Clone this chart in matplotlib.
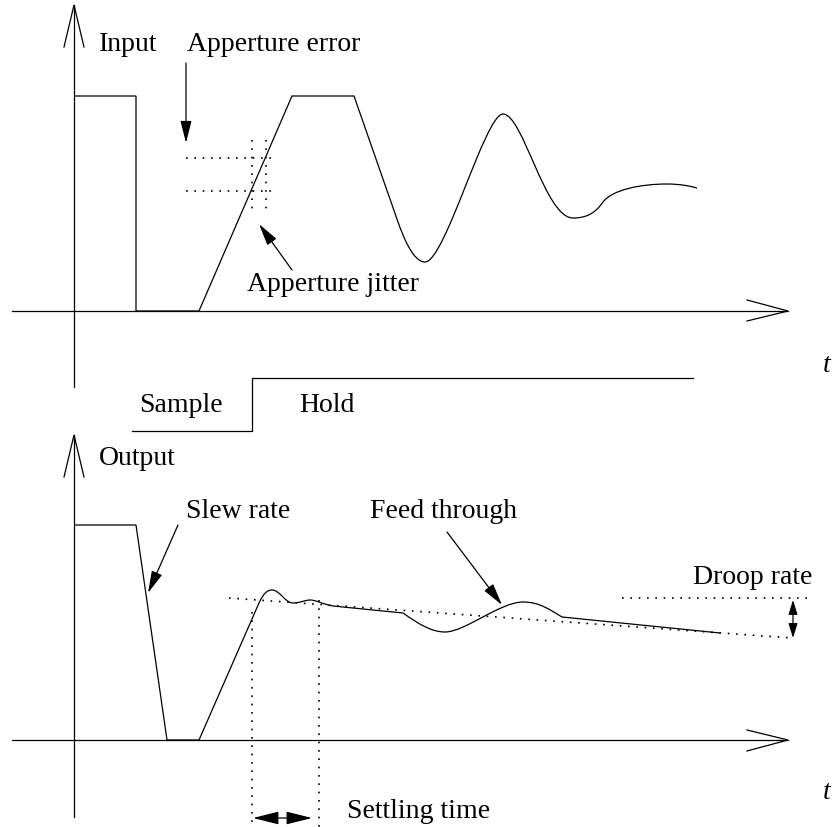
import matplotlib.pyplot as plt
from matplotlib.path import Path
from matplotlib.patches import PathPatch

# diagram drawn in pixel coordinates of the 832x827 picture (y goes down)

# axes of the two panels
top_axis_v_x = [74, 74]
top_axis_v_y = [5, 387]
top_axis_h_x = [12, 788]
top_axis_h_y = [311, 311]
bot_axis_v_x = [74, 74]
bot_axis_v_y = [435, 817]
bot_axis_h_x = [12, 788]
bot_axis_h_y = [740, 740]
up_head_x = [64, 74, 84]
top_up_head_y = [47, 5, 47]
bot_up_head_y = [477, 435, 477]
right_head_x = [747, 788, 747]
top_right_head_y = [300, 311, 321]
bot_right_head_y = [730, 740, 751]

# input signal: straight part, then bezier pieces (ctrl1, ctrl2, end)
input_lines = [(74, 96), (136, 96), (136, 311), (199, 311), (292, 96), (354, 96), (398, 222)]
input_curves = [
    [(403, 236), (413, 262), (425, 262)],
    [(445, 262), (485, 114), (503, 114)],
    [(523, 114), (545, 218), (573, 218)],
    [(588, 218), (596, 212), (603, 202)],
    [(612, 190), (640, 184), (667, 184)],
    [(680, 184), (690, 186), (697, 188)],
]

# output signal
output_lines = [(74, 525), (136, 525), (167, 740), (199, 740), (259, 603)]
output_curves = [
    [(264, 592), (268, 590), (272, 590)],
    [(280, 590), (285, 603), (293, 603)],
    [(300, 603), (305, 600), (310, 600)],
    [(316, 600), (322, 604), (333, 606)],
]
output_mid = [(403, 613)]
feed_curves = [
    [(420, 625), (432, 632), (445, 632)],
    [(465, 632), (500, 602), (523, 602)],
    [(540, 602), (550, 610), (562, 617)],
]
output_tail = [(720, 633)]

# sample / hold control line
hold_x = [132, 252, 252, 693]
hold_y = [431, 431, 378, 378]

# dotted guides
ap_err_y = [158, 191]
ap_err_x = [186, 277]
ap_jit_x = [252, 266]
ap_jit_y = [140, 213]
droop_line_x = [229, 792]
droop_line_y = [598, 638]
droop_top_x = [622, 812]
droop_top_y = [598, 598]
settle_x = [252, 319]
settle_top = [612, 600]
settle_bottom = 827

# labels: text, x, baseline y
labels = [
    ("Input", 99, 51), ("Apperture error", 187, 51), ("Apperture jitter", 247, 291),
    ("Sample", 139, 412), ("Hold", 299, 412), ("Output", 99, 465),
    ("Slew rate", 186, 518), ("Feed through", 370, 518), ("Droop rate", 693, 584),
    ("Settling time", 347, 818),
]
t_labels = [(823, 372), (823, 799)]

# pointer arrows: from, to
pointers = [((186, 63), (186, 143)), ((292, 270), (259, 224)),
            ((178, 525), (148, 593)), ((447, 532), (502, 605))]


def signal_path(lines, curve_groups):
    verts = [lines[0]]
    codes = [Path.MOVETO]
    for p in lines[1:]:
        verts.append(p)
        codes.append(Path.LINETO)
    for group in curve_groups:
        if isinstance(group, tuple):
            verts.append(group)
            codes.append(Path.LINETO)
            continue
        for c in group:
            verts.append(c)
            codes.append(Path.CURVE4)
    return Path(verts, codes)


fig = plt.figure(figsize=(8.32, 8.27), dpi=100)
ax = fig.add_axes([0, 0, 1, 1])
ax.set_xlim(0, 832)
ax.set_ylim(827, 0)
ax.axis('off')

k = 'black'
for xs, ys in [(top_axis_v_x, top_axis_v_y), (top_axis_h_x, top_axis_h_y),
               (bot_axis_v_x, bot_axis_v_y), (bot_axis_h_x, bot_axis_h_y),
               (up_head_x, top_up_head_y), (up_head_x, bot_up_head_y),
               (right_head_x, top_right_head_y), (right_head_x, bot_right_head_y)]:
    ax.plot(xs, ys, color=k, lw=0.9, solid_joinstyle='miter')

p_in = signal_path(input_lines, input_curves)
ax.add_patch(PathPatch(p_in, fill=False, lw=0.9, ec=k))
p_out = signal_path(output_lines, output_curves + output_mid + feed_curves + output_tail)
ax.add_patch(PathPatch(p_out, fill=False, lw=0.9, ec=k))

ax.plot(hold_x, hold_y, color=k, lw=0.9)

dot = dict(color=k, lw=1.2, linestyle=(0, (1, 4)))
for y in ap_err_y:
    ax.plot(ap_err_x, [y, y], **dot)
for x in ap_jit_x:
    ax.plot([x, x], ap_jit_y, **dot)
ax.plot(droop_line_x, droop_line_y, **dot)
ax.plot(droop_top_x, droop_top_y, **dot)
for x, top in zip(settle_x, settle_top):
    ax.plot([x, x], [top, settle_bottom], **dot)

for start, end in pointers:
    ax.annotate("", xy=end, xytext=start,
                arrowprops=dict(arrowstyle='-|>,head_length=0.8,head_width=0.2',
                                mutation_scale=17, color=k, lw=0.9,
                                shrinkA=0, shrinkB=0))

ax.annotate("", xy=(312, 818), xytext=(253, 818),
            arrowprops=dict(arrowstyle='<|-|>,head_length=0.8,head_width=0.2',
                            mutation_scale=20, color=k, lw=0.9, shrinkA=0, shrinkB=0))
ax.annotate("", xy=(793, 638), xytext=(793, 600),
            arrowprops=dict(arrowstyle='<|-|>,head_length=0.8,head_width=0.25',
                            mutation_scale=11, color=k, lw=0.9, shrinkA=0, shrinkB=0))

for txt, x, y in labels:
    ax.text(x, y, txt, fontsize=20, family='Liberation Serif', ha='left', va='baseline')
for x, y in t_labels:
    ax.text(x, y, "t", fontsize=20, family='Liberation Serif', style='italic',
            ha='left', va='baseline')

fig.savefig("out.png", dpi=100)
